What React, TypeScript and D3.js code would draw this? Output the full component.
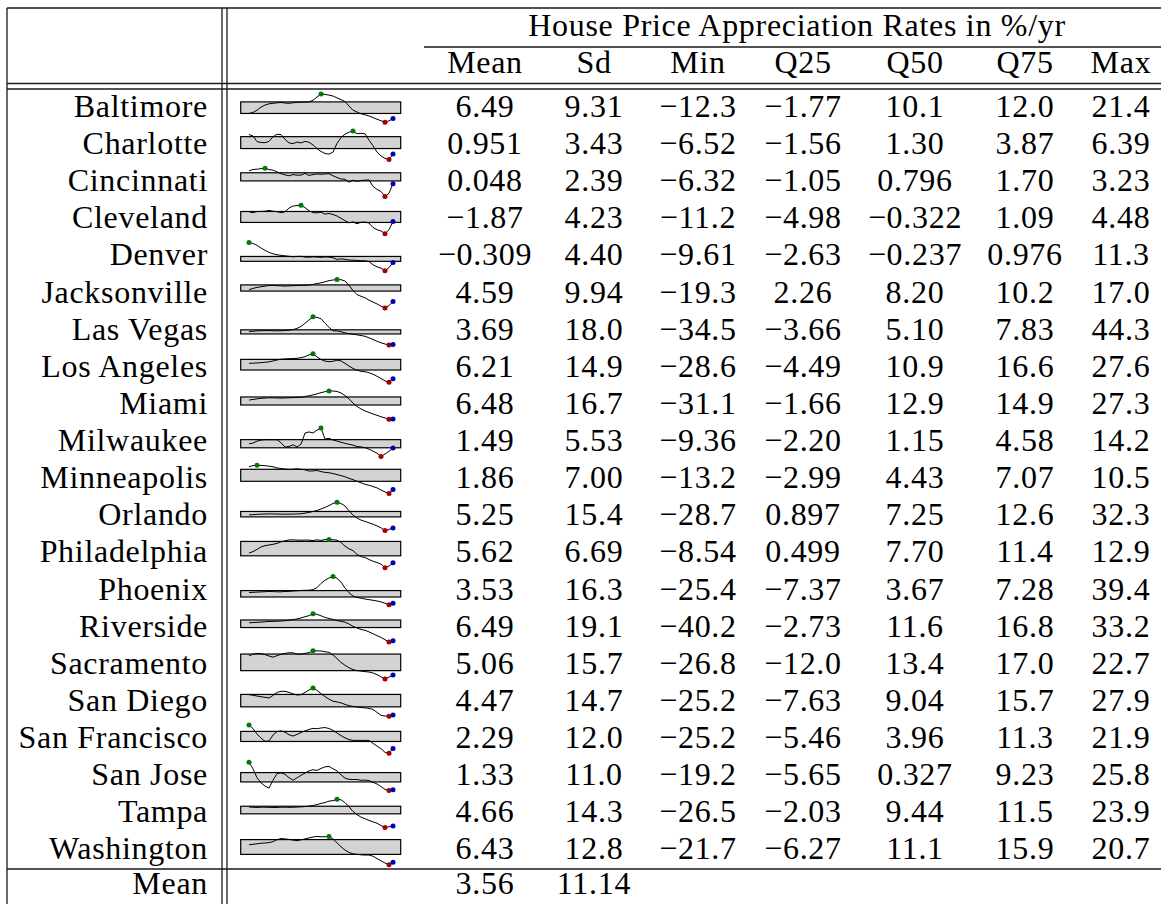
import React from "react";
import * as d3 from "d3";

// ---------- DATA ----------
const headerTitle = "House Price Appreciation Rates in %/yr";
const columnHeaders = ["Mean", "Sd", "Min", "Q25", "Q50", "Q75", "Max"];

const cities = [
  "Baltimore", "Charlotte", "Cincinnati", "Cleveland", "Denver", "Jacksonville",
  "Las Vegas", "Los Angeles", "Miami", "Milwaukee", "Minneapolis", "Orlando",
  "Philadelphia", "Phoenix", "Riverside", "Sacramento", "San Diego",
  "San Francisco", "San Jose", "Tampa", "Washington",
];

const meanLabels = ["6.49", "0.951", "0.048", "−1.87", "−0.309", "4.59", "3.69", "6.21", "6.48", "1.49", "1.86", "5.25", "5.62", "3.53", "6.49", "5.06", "4.47", "2.29", "1.33", "4.66", "6.43"];
const sdLabels = ["9.31", "3.43", "2.39", "4.23", "4.40", "9.94", "18.0", "14.9", "16.7", "5.53", "7.00", "15.4", "6.69", "16.3", "19.1", "15.7", "14.7", "12.0", "11.0", "14.3", "12.8"];
const minLabels = ["−12.3", "−6.52", "−6.32", "−11.2", "−9.61", "−19.3", "−34.5", "−28.6", "−31.1", "−9.36", "−13.2", "−28.7", "−8.54", "−25.4", "−40.2", "−26.8", "−25.2", "−25.2", "−19.2", "−26.5", "−21.7"];
const q25Labels = ["−1.77", "−1.56", "−1.05", "−4.98", "−2.63", "2.26", "−3.66", "−4.49", "−1.66", "−2.20", "−2.99", "0.897", "0.499", "−7.37", "−2.73", "−12.0", "−7.63", "−5.46", "−5.65", "−2.03", "−6.27"];
const q50Labels = ["10.1", "1.30", "0.796", "−0.322", "−0.237", "8.20", "5.10", "10.9", "12.9", "1.15", "4.43", "7.25", "7.70", "3.67", "11.6", "13.4", "9.04", "3.96", "0.327", "9.44", "11.1"];
const q75Labels = ["12.0", "3.87", "1.70", "1.09", "0.976", "10.2", "7.83", "16.6", "14.9", "4.58", "7.07", "12.6", "11.4", "7.28", "16.8", "17.0", "15.7", "11.3", "9.23", "11.5", "15.9"];
const maxLabels = ["21.4", "6.39", "3.23", "4.48", "11.3", "17.0", "44.3", "27.6", "27.3", "14.2", "10.5", "32.3", "12.9", "39.4", "33.2", "22.7", "27.9", "21.9", "25.8", "23.9", "20.7"];

const footerLabel = "Mean";
const footerValues = ["3.56", "11.14"];

// sparkline series (%/yr)
const baltimoreSeries = [-1.8, -0.6, 2.1, 5.8, 8.2, 9.7, 10.3, 10.9, 11.3, 10.6, 10.3, 11.0, 11.4, 11.7, 11.8, 12.0, 14.0, 17.8, 21.4, 21.0, 20.0, 19.0, 16.8, 14.8, 12.4, 7.0, 2.1, 0.0, -2.2, -3.3, -4.8, -6.6, -8.7, -10.4, -12.3, -10.5, -7.7];
const charlotteSeries = [4.8, 4.2, 1.6, 1.2, 1.1, 1.7, 3.8, 5.0, 4.8, 2.6, 1.0, 0.7, 1.4, 1.0, 1.7, 1.3, 0.1, -1.6, -2.9, -3.8, -4.1, -3.2, 0.8, 3.5, 5.0, 5.9, 6.39, 5.2, 5.4, 5.2, 2.3, -0.3, -3.2, -4.9, -6.1, -6.52, -4.1];
const cincinnatiSeries = [2.4, 2.8, 2.9, 3.1, 3.23, 2.8, 2.6, 2.0, 1.4, 1.0, 0.7, 1.1, 0.9, 0.9, 1.5, 0.8, 1.1, 1.3, 1.2, 1.3, 1.4, 0.7, 0.1, -0.4, -0.5, -1.5, -0.8, -1.2, -0.9, -0.8, -0.7, -2.9, -3.9, -4.6, -6.32, -5.2, -2.0];
const clevelandSeries = [0.9, 0.4, 1.1, 1.1, 1.2, 1.7, 1.2, 1.0, 0.4, 0.9, 3.0, 4.1, 4.4, 4.48, 3.2, 1.5, 0.5, 0.3, 0.7, -0.4, 0.0, -0.6, -1.4, -2.7, -4.0, -5.2, -4.7, -5.7, -4.9, -4.8, -5.3, -7.8, -9.0, -9.7, -11.2, -9.0, -4.5];
const denverSeries = [11.3, 10.6, 9.2, 7.2, 5.5, 4.0, 2.9, 2.2, 1.8, 1.4, 1.1, 0.7, 1.0, 1.1, 0.5, 0.4, 0.7, 0.5, 0.3, 0.6, 0.5, 0.0, -1.2, -0.8, -1.1, -1.7, -1.8, -1.9, -2.2, -2.2, -2.8, -5.2, -6.7, -7.6, -9.61, -7.3, -3.4];
const jacksonvilleSeries = [4.0, 5.7, 7.0, 7.8, 8.6, 9.5, 9.5, 9.2, 9.0, 8.7, 9.0, 9.2, 9.4, 9.6, 9.7, 10.0, 10.9, 11.9, 12.9, 14.1, 15.7, 16.5, 17.0, 16.9, 15.2, 9.7, 3.0, -2.2, -4.4, -6.3, -9.4, -11.8, -14.2, -17.1, -19.3, -16.3, -11.1];
const lasVegasSeries = [3.0, 3.8, 4.9, 5.2, 5.5, 5.5, 5.2, 4.9, 5.2, 5.7, 6.6, 8.5, 11.8, 17.3, 26.1, 35.2, 44.3, 42.6, 38.5, 26.1, 15.1, 4.9, 4.9, 2.7, -0.6, -2.8, -4.5, -6.1, -8.0, -10.2, -14.4, -19.1, -24.0, -28.2, -31.7, -34.5, -32.8];
const losAngelesSeries = [8.7, 9.1, 9.5, 10.1, 10.9, 11.7, 13.4, 15.4, 16.9, 17.5, 17.9, 18.3, 18.7, 20.1, 22.1, 25.4, 27.6, 21.7, 16.4, 13.2, 12.0, 12.9, 15.0, 13.6, 8.7, 3.3, -1.4, -4.9, -7.1, -7.9, -9.9, -12.8, -17.0, -21.3, -26.2, -28.6, -21.7];
const miamiSeries = [8.5, 9.8, 11.0, 12.1, 12.7, 13.3, 13.1, 12.9, 12.7, 12.9, 13.3, 13.5, 14.0, 14.4, 15.8, 17.3, 19.2, 21.3, 23.8, 25.8, 27.3, 27.2, 26.3, 23.1, 17.9, 11.0, 2.3, -4.6, -9.8, -13.8, -17.1, -20.1, -23.0, -25.9, -28.4, -31.1, -30.5];
const milwaukeeSeries = [1.2, 1.7, 3.3, 4.2, 4.5, 4.5, 4.5, 4.5, 2.0, -1.6, -1.1, 0.3, -1.5, 0.8, 10.1, 11.0, 10.1, 12.5, 14.2, 5.1, 5.7, 4.2, 3.4, 2.4, 1.5, 0.7, 0.0, -1.1, -1.5, -2.1, -3.3, -5.0, -6.7, -9.36, -7.4, -5.1, -2.4];
const minneapolisSeries = [9.2, 10.2, 10.5, 10.3, 10.1, 9.7, 9.2, 8.2, 7.7, 7.3, 7.0, 7.1, 7.5, 7.1, 6.6, 5.6, 5.7, 6.1, 5.1, 4.5, 4.2, 3.5, 2.6, 1.8, 0.8, -0.5, -1.6, -3.0, -4.2, -5.5, -6.3, -7.4, -8.5, -10.3, -11.9, -13.2, -9.9];
const orlandoSeries = [5.3, 5.7, 6.4, 6.8, 7.0, 7.4, 7.2, 7.0, 6.8, 6.8, 6.8, 7.0, 7.2, 7.6, 9.1, 10.6, 12.5, 14.7, 17.8, 21.3, 25.3, 29.8, 32.3, 29.8, 24.4, 14.2, 4.7, -1.7, -6.0, -8.9, -11.9, -14.9, -18.5, -22.7, -28.7, -26.1, -23.0];
const philadelphiaSeries = [2.6, 3.7, 5.3, 7.2, 8.2, 8.7, 9.2, 9.9, 11.1, 11.9, 12.5, 12.6, 12.4, 12.3, 12.4, 12.4, 12.0, 12.6, 12.2, 12.8, 12.9, 12.7, 12.3, 10.7, 7.8, 5.8, 4.4, 1.6, -0.1, -0.8, -2.3, -3.6, -4.6, -5.8, -8.54, -7.3, -4.7];
const phoenixSeries = [2.9, 3.3, 3.8, 4.3, 4.7, 5.2, 5.0, 4.5, 4.5, 5.2, 5.6, 6.3, 7.0, 7.5, 7.9, 8.1, 9.5, 14.1, 23.7, 31.0, 36.2, 39.4, 35.5, 26.8, 13.2, 2.4, -5.3, -8.5, -10.1, -12.0, -13.5, -14.9, -16.5, -18.6, -21.8, -25.4, -21.5];
const riversideSeries = [9.6, 10.1, 10.7, 11.4, 12.2, 13.0, 13.3, 13.5, 14.1, 14.9, 16.2, 17.7, 19.6, 22.2, 25.3, 28.0, 33.2, 31.4, 27.7, 23.5, 20.9, 18.3, 15.4, 13.3, 11.2, 6.5, 0.4, -4.0, -7.7, -9.8, -14.0, -18.7, -23.7, -28.4, -34.2, -40.2, -36.8];
const sacramentoSeries = [13.9, 16.8, 18.2, 17.8, 16.1, 13.6, 11.5, 14.1, 16.6, 18.2, 19.2, 19.2, 16.9, 16.9, 18.2, 19.5, 22.7, 22.6, 22.4, 21.0, 20.1, 15.4, 9.1, 2.4, -2.8, -6.9, -10.2, -11.9, -12.8, -13.7, -14.4, -16.1, -18.9, -22.9, -26.8, -23.3, -19.8];
const sanDiegoSeries = [15.2, 14.1, 12.7, 11.4, 10.3, 9.1, 13.9, 19.4, 21.5, 21.5, 19.6, 16.7, 14.6, 15.2, 19.2, 24.1, 27.9, 23.2, 17.3, 11.6, 6.9, 2.9, 1.7, -0.3, -3.0, -5.5, -6.8, -7.9, -8.9, -9.6, -10.4, -12.5, -18.0, -23.5, -24.8, -25.2, -22.7];
const sanFranciscoSeries = [21.9, 16.2, 6.8, 0.3, -5.2, -4.6, 5.2, 11.0, 12.2, 10.0, 5.7, 3.5, 6.3, 9.4, 12.2, 14.6, 16.4, 15.7, 17.0, 17.7, 16.2, 13.0, 8.7, 4.4, 0.5, -2.3, -3.6, -3.6, -3.6, -3.6, -3.6, -8.6, -13.0, -17.4, -23.5, -25.2, -17.1];
const sanJoseSeries = [25.8, 15.3, 0.9, -7.0, -12.2, -15.4, -3.0, 7.6, 8.8, 6.5, 1.1, -3.0, 0.9, 4.9, 8.5, 11.9, 13.8, 12.6, 15.8, 18.4, 19.0, 15.3, 12.0, 5.7, 0.4, -1.5, -1.8, -1.8, -3.0, -2.7, -3.5, -6.2, -8.9, -13.0, -17.5, -19.2, -18.1];
const tampaSeries = [10.0, 9.7, 9.3, 9.8, 9.8, 9.5, 9.3, 9.3, 9.8, 9.8, 9.5, 9.7, 10.0, 10.4, 10.9, 11.7, 12.9, 14.4, 16.6, 18.1, 20.6, 21.5, 23.9, 23.0, 17.9, 10.6, 2.2, -3.5, -7.9, -10.8, -13.7, -16.3, -18.8, -22.8, -26.5, -25.0, -23.6];
const washingtonSeries = [8.2, 8.9, 9.7, 10.4, 10.8, 11.4, 12.8, 15.8, 17.4, 17.0, 16.2, 15.2, 14.3, 15.5, 17.0, 18.5, 19.7, 20.6, 20.2, 20.2, 20.7, 17.0, 11.1, 5.2, 0.2, -3.3, -5.4, -6.2, -6.9, -7.2, -7.2, -9.0, -12.6, -15.9, -19.2, -21.7, -18.1];

const seriesList = [
  baltimoreSeries, charlotteSeries, cincinnatiSeries, clevelandSeries, denverSeries,
  jacksonvilleSeries, lasVegasSeries, losAngelesSeries, miamiSeries, milwaukeeSeries,
  minneapolisSeries, orlandoSeries, philadelphiaSeries, phoenixSeries, riversideSeries,
  sacramentoSeries, sanDiegoSeries, sanFranciscoSeries, sanJoseSeries, tampaSeries,
  washingtonSeries,
];

// ---------- LAYOUT ----------
const W = 1161;
const H = 904;
const FONT = "'Liberation Serif', 'Times New Roman', serif";
const FS = 32;
const LS = 0.7;
const num = (s: string) => +s.replace("\u2212", "-");

const tableColumns = [meanLabels, sdLabels, minLabels, q25Labels, q50Labels, q75Labels, maxLabels];

export default function App() {
  const colX = d3.scaleOrdinal<string, number>()
    .domain(columnHeaders)
    .range([485, 594, 698, 803, 915, 1025, 1121]);
  const rowBaseline = d3.scaleLinear().domain([0, cities.length - 1]).range([117, 117 + 20 * 37.12]);
  const sparkX = d3.scaleLinear().domain([0, baltimoreSeries.length - 1]).range([249, 393]);

  const leftX = 7;
  const vA = 222;
  const vB = 227;
  const clineStart = 424;
  const lineColor = "#1a1a1a";
  const lw = 1.3;
  const footY = 894;

  return (
    <svg width={W} height={H} style={{ position: "absolute", left: 0, top: 0, background: "#fff" }}
      fontFamily={FONT} fontSize={FS} letterSpacing={LS}>
      <rect x={0} y={0} width={W} height={H} fill="#fff" />
      {/* rules */}
      <line x1={leftX} x2={W} y1={8} y2={8} stroke={lineColor} strokeWidth={lw} />
      <line x1={clineStart} x2={W} y1={47} y2={47} stroke={lineColor} strokeWidth={lw} />
      <line x1={leftX} x2={W} y1={83.5} y2={83.5} stroke={lineColor} strokeWidth={lw} />
      <line x1={leftX} x2={W} y1={89} y2={89} stroke={lineColor} strokeWidth={lw} />
      <line x1={leftX} x2={W} y1={869} y2={869} stroke={lineColor} strokeWidth={lw} />
      <line x1={leftX} x2={leftX} y1={8} y2={H} stroke={lineColor} strokeWidth={lw} />
      <line x1={vA} x2={vA} y1={8} y2={H} stroke={lineColor} strokeWidth={lw} />
      <line x1={vB} x2={vB} y1={8} y2={H} stroke={lineColor} strokeWidth={lw} />

      {/* header */}
      <text x={797} y={36} textAnchor="middle">{headerTitle}</text>
      {columnHeaders.map((h) => (
        <text key={h} x={colX(h)} y={73} textAnchor="middle">{h}</text>
      ))}

      {/* rows */}
      {cities.map((c, i) => {
        const base = rowBaseline(i);
        const series = seriesList[i];
        const lo = num(minLabels[i]);
        const hi = num(maxLabels[i]);
        const top = base - 23;
        const sy = d3.scaleLinear().domain([lo, hi]).range([top + 28.3, top]);
        const line = d3.line<number>().x((_, k) => sparkX(k)).y((d) => sy(d));
        const q25 = num(q25Labels[i]);
        const q75 = num(q75Labels[i]);
        const iMax = d3.maxIndex(series);
        const iMin = d3.minIndex(series);
        const iLast = series.length - 1;
        return (
          <g key={c}>
            <text x={208} y={base} textAnchor="end">{c}</text>
            <rect x={240.7} y={sy(q75)} width={160} height={sy(q25) - sy(q75)}
              fill="#d3d3d3" stroke="#000" strokeWidth={1.2} />
            <path d={line(series) || ""} fill="none" stroke="#000" strokeWidth={1} />
            <circle cx={sparkX(iMax)} cy={sy(series[iMax])} r={2.5} fill="#007a00" />
            <circle cx={sparkX(iMin)} cy={sy(series[iMin])} r={2.5} fill="#a50000" />
            <circle cx={sparkX(iLast)} cy={sy(series[iLast])} r={2.5} fill="#0000b4" />
            {tableColumns.map((col, j) => (
              <text key={j} x={colX(columnHeaders[j])} y={base} textAnchor="middle">{col[i]}</text>
            ))}
          </g>
        );
      })}

      {/* footer */}
      <text x={208} y={footY} textAnchor="end">{footerLabel}</text>
      {footerValues.map((v, j) => (
        <text key={j} x={colX(columnHeaders[j])} y={footY} textAnchor="middle">{v}</text>
      ))}
    </svg>
  );
}
